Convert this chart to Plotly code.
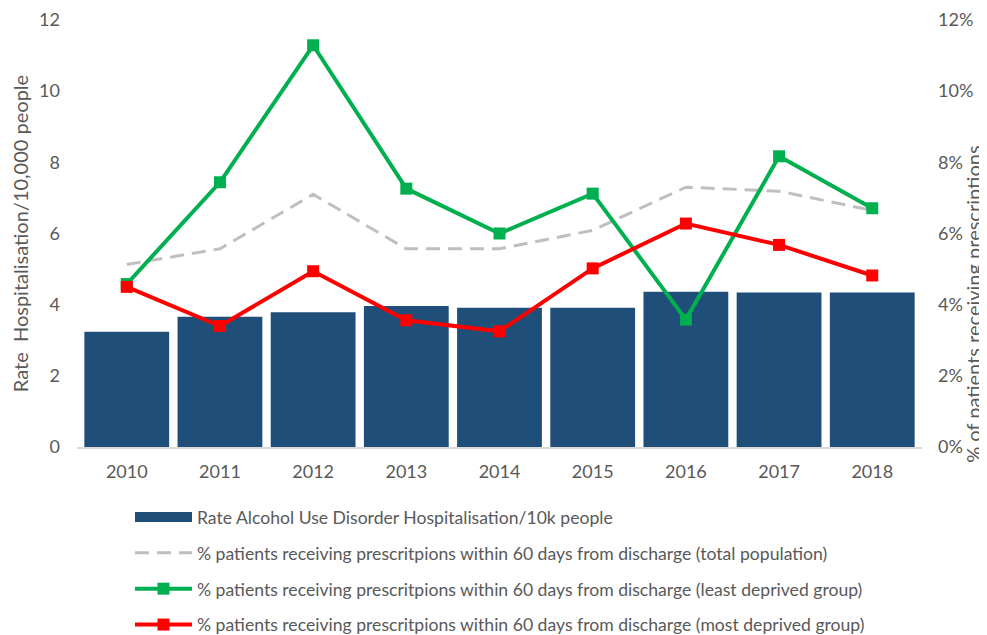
import plotly.graph_objects as go

years = ["2010", "2011", "2012", "2013", "2014", "2015", "2016", "2017", "2018"]
hosp_rate = [3.24, 3.66, 3.79, 3.96, 3.91, 3.91, 4.36, 4.34, 4.34]
pct_total = [0.0513, 0.0557, 0.0710, 0.0557, 0.0557, 0.0609, 0.0730, 0.0719, 0.0665]
pct_least = [0.0458, 0.0744, 0.1129, 0.0726, 0.0600, 0.0712, 0.0358, 0.0817, 0.0671]
pct_most = [0.0450, 0.0340, 0.0494, 0.0356, 0.0325, 0.0502, 0.0628, 0.0568, 0.0482]

names = [
    "Rate Alcohol Use Disorder Hospitalisation/10k people",
    "% patients receiving prescritpions within 60 days from discharge (total population)",
    "% patients receiving prescritpions within 60 days from discharge (least deprived group)",
    "% patients receiving prescritpions within 60 days from discharge (most deprived group)",
]

FONT = "Lato"
GREY = "#595959"
BAR = "#1F4E79"

fig = go.Figure()
fig.add_trace(go.Bar(x=years, y=hosp_rate, name=names[0], marker_color=BAR,
                     marker_line_width=0, legendgroup="a", showlegend=False, yaxis="y"))
# legend entry for the bars (wide rectangle swatch like the original)
fig.add_trace(go.Scatter(x=[None], y=[None], name=names[0], mode="lines",
                         line=dict(color=BAR, width=10), legendgroup="a", yaxis="y"))
fig.add_trace(go.Scatter(x=years, y=pct_total, name=names[1], mode="lines",
                         line=dict(color="#BFBFBF", width=3, dash="14px,8px"),
                         legendgroup="b", yaxis="y2"))
fig.add_trace(go.Scatter(x=years, y=pct_least, name=names[2], mode="lines+markers",
                         line=dict(color="#00B050", width=4),
                         marker=dict(symbol="square", size=12, color="#00B050"),
                         legendgroup="c", yaxis="y2"))
fig.add_trace(go.Scatter(x=years, y=pct_most, name=names[3], mode="lines+markers",
                         line=dict(color="#FF0000", width=4),
                         marker=dict(symbol="square", size=12, color="#FF0000"),
                         legendgroup="d", yaxis="y2"))

fig.update_layout(
    width=987, height=635,
    margin=dict(l=69, r=73, t=12, b=195.5, autoexpand=False),
    paper_bgcolor="white", plot_bgcolor="white",
    font=dict(family=FONT, color=GREY, size=17.6),
    bargap=0.09,
    showlegend=True,
    legend=dict(orientation="v", x=0.0627, xanchor="left", xref="paper",
                y=0.2268, yanchor="top", yref="container",
                traceorder="grouped", tracegroupgap=10, itemwidth=57,
                font=dict(family=FONT, size=17.6, color=GREY),
                bgcolor="rgba(0,0,0,0)"),
    xaxis=dict(showgrid=False, showline=True, linecolor="#D9D9D9", linewidth=1.5,
               ticks="", tickfont=dict(size=18, color=GREY), ticklabelstandoff=8,
               automargin=False),
    yaxis=dict(range=[0, 12], dtick=2, showgrid=False, zeroline=False, showline=False,
               ticks="", tickfont=dict(size=18, color=GREY), ticklabelstandoff=16,
               automargin=False,
               title=dict(text="Rate  Hospitalisation/10,000 people", standoff=14,
                          font=dict(size=20, color=GREY))),
    yaxis2=dict(range=[0, 0.12], dtick=0.02, tickformat=".0%", overlaying="y", side="right",
                showgrid=False, zeroline=False, showline=False, ticks="",
                tickfont=dict(size=18, color=GREY), ticklabelstandoff=15, automargin=False),
    annotations=[dict(text="% of patients receiving prescriptions", xref="paper", yref="paper",
                      x=1.0, xshift=51, y=0.333, yanchor="middle", xanchor="center",
                      textangle=-90, showarrow=False,
                      font=dict(size=20, color=GREY, family=FONT))],
)

fig.write_html("out.html")
